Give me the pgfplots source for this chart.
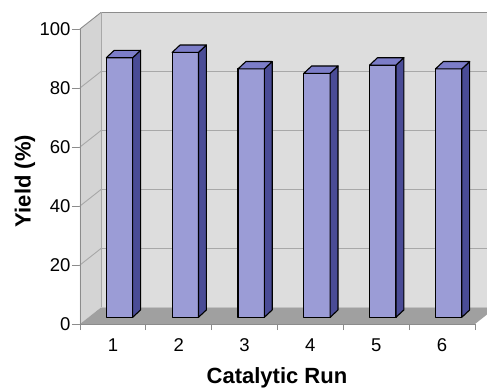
\documentclass[border=0pt]{standalone}
\usepackage{pgfplots}
\pgfplotsset{compat=1.18}
\usepackage{fontspec}
\setmainfont{Liberation Sans}
\definecolor{backwall}{RGB}{221,221,221}
\definecolor{sidewall}{RGB}{212,212,212}
\definecolor{floorc}{RGB}{160,160,160}
\definecolor{gridc}{RGB}{168,168,168}
\definecolor{edgec}{RGB}{140,140,140}
\definecolor{barfront}{RGB}{155,156,214}
\definecolor{barside}{RGB}{74,76,150}
\definecolor{bartop}{RGB}{124,125,200}
\begin{document}
\begin{tikzpicture}
\useasboundingbox (-80pt,-65pt) rectangle (407pt,324pt);
\begin{axis}[
  at={(0pt,0pt)}, anchor=south west,
  scale only axis, width=407pt, height=312.7pt,
  xmin=0.5, xmax=6.683, ymin=0, ymax=106,
  clip=false,
  axis x line*=bottom, axis y line*=left,
  axis line style={draw=none},
  ytick={0,20,...,100},
  xtick={1,...,6},
  minor xtick={0.5,1.5,...,6.5},
  tick align=outside,
  major tick length=8pt, minor tick length=6pt,
  tick style={draw=edgec, line width=0.8pt},
  every major x tick/.append style={draw=none},
  tick label style={font=\fontsize{18.5}{22}\selectfont},
  xticklabel style={yshift=-3pt},
  yticklabel style={xshift=2pt},
  /pgf/number format/assume math mode=true,
  xlabel={\bfseries Catalytic Run},
  ylabel={\bfseries Yield (\%)},
  every axis x label/.style={at={(rel axis cs:0.484,-0.191)}, anchor=base, font=\fontsize{22}{26}\selectfont},
  every axis y label/.style={at={(rel axis cs:-0.135,0.457)}, anchor=center, rotate=90, font=\fontsize{22}{26}\selectfont},
]
% walls
\addplot[fill=backwall, draw=none] coordinates {(0.819,5.6) (6.683,5.6) (6.683,105.6) (0.819,105.6)} -- cycle;
\addplot[fill=sidewall, draw=none] coordinates {(0.5,0) (0.819,5.6) (0.819,105.6) (0.5,100)} -- cycle;
\addplot[fill=floorc, draw=none] coordinates {(0.5,0) (6.5,0) (6.683,3.21) (6.683,5.6) (0.819,5.6)} -- cycle;
% grid lines
\pgfplotsforeachungrouped \g in {20,40,60,80}{
  \pgfmathsetmacro\gb{\g+5.6}
  \edef\temp{\noexpand\addplot[draw=gridc, line width=0.9pt] coordinates {(0.5,\g) (0.819,\gb) (6.683,\gb)};}
  \temp
}
% wall edges
\addplot[draw=edgec, line width=0.9pt] coordinates {(0.5,100) (0.819,105.6) (6.683,105.6)};
\addplot[draw=gridc, line width=0.6pt] coordinates {(0.819,5.6) (0.819,105.6)};
\addplot[draw=edgec, line width=0.9pt] coordinates {(0.5,100) (0.5,0) (6.5,0)};
% bars
\pgfplotsforeachungrouped \c/\v in {1/88.0,2/89.8,3/84.2,4/82.7,5/85.5,6/84.2}{
  \pgfmathsetmacro\xa{\c-0.1}
  \pgfmathsetmacro\xb{\c+0.3}
  \pgfmathsetmacro\xc{\c+0.42}
  \pgfmathsetmacro\xd{\c+0.02}
  \pgfmathsetmacro\ya{2.27}
  \pgfmathsetmacro\yb{4.77}
  \pgfmathsetmacro\yc{\v+2.27}
  \pgfmathsetmacro\yd{\v+4.77}
  \edef\temp{%
    \noexpand\addplot[draw=black, line width=1.1pt, line join=round, fill=barfront] coordinates {(\xa,\ya) (\xb,\ya) (\xb,\yc) (\xa,\yc)} -- cycle;
    \noexpand\addplot[draw=black, line width=1.1pt, line join=round, fill=barside] coordinates {(\xb,\ya) (\xc,\yb) (\xc,\yd) (\xb,\yc)} -- cycle;
    \noexpand\addplot[draw=black, line width=1.1pt, line join=round, fill=bartop] coordinates {(\xa,\yc) (\xb,\yc) (\xc,\yd) (\xd,\yd)} -- cycle;
  }
  \temp
}
\end{axis}
\end{tikzpicture}
\end{document}
